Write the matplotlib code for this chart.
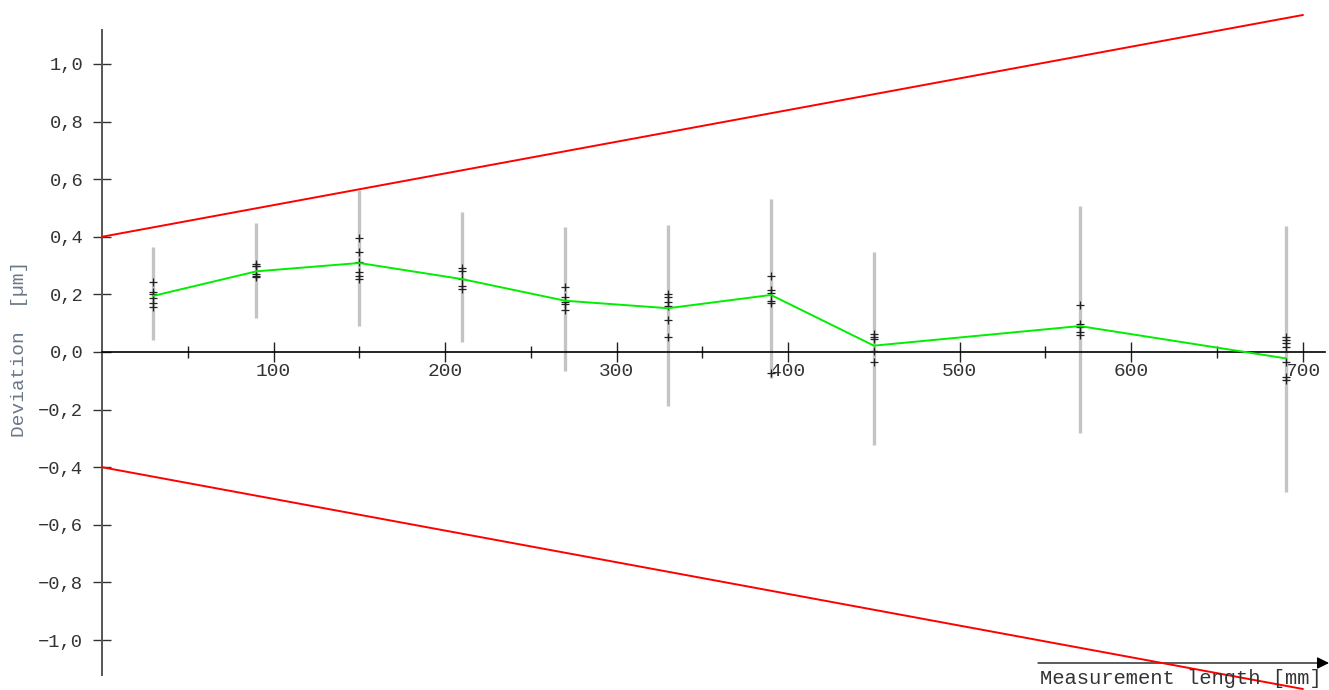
import numpy as np
import matplotlib.pyplot as plt
from matplotlib.ticker import FixedLocator, FuncFormatter

# =============================
# DATA
# =============================
positions = [30, 90, 150, 210, 270, 330, 390, 450, 570, 690]

mean_dev = [0.195, 0.280, 0.309, 0.253, 0.178, 0.152, 0.198, 0.022, 0.090, -0.022]

bar_top = [0.366, 0.447, 0.562, 0.485, 0.433, 0.441, 0.530, 0.347, 0.507, 0.437]
bar_bottom = [0.042, 0.119, 0.090, 0.034, -0.065, -0.188, -0.091, -0.323, -0.280, -0.485]

single_values = [
    [0.244, 0.209, 0.200, 0.189, 0.171, 0.157],
    [0.305, 0.300, 0.298, 0.271, 0.265, 0.262],
    [0.395, 0.346, 0.314, 0.277, 0.264, 0.255],
    [0.293, 0.282, 0.252, 0.229, 0.218],
    [0.225, 0.192, 0.172, 0.165, 0.146],
    [0.200, 0.190, 0.175, 0.161, 0.111, 0.052],
    [0.265, 0.215, 0.206, 0.177, 0.169, -0.074],
    [0.061, 0.053, 0.044, 0.005, -0.035],
    [0.164, 0.097, 0.088, 0.071, 0.059],
    [0.053, 0.042, 0.030, 0.019, -0.034, -0.086, -0.097],
]

# tolerance limits: +/- (0.4 + 1.1 * L / 1000) um
tol_length = [0, 700]
tol_upper = [0.40, 1.17]
tol_lower = [-0.40, -1.17]

x_major = [100, 200, 300, 400, 500, 600, 700]
x_minor = [50, 150, 250, 350, 450, 550, 650]
y_major = [-1.0, -0.8, -0.6, -0.4, -0.2, 0.0, 0.2, 0.4, 0.6, 0.8, 1.0]

# =============================
# FIGURE
# =============================
plt.rcParams['font.family'] = ['Liberation Mono', 'DejaVu Sans Mono']

fig = plt.figure(figsize=(13.29, 6.90), dpi=100)
ax = fig.add_axes([102 / 1329, 15 / 690, 1223 / 1329, 645 / 690])
ax.set_xlim(0, 713)
ax.set_ylim(-1.1215, 1.118)

# spines through the origin
for side in ["top", "right"]:
    ax.spines[side].set_visible(False)
ax.spines["bottom"].set_position(("data", 0))
ax.spines["left"].set_position(("data", 0))
ax.spines["bottom"].set_color("black")
ax.spines["bottom"].set_linewidth(1.2)
ax.spines["left"].set_color("#555555")
ax.spines["left"].set_linewidth(1.4)

# grey bars
ax.vlines(positions, bar_bottom, bar_top, color="#c4c4c4", linewidth=2.4, zorder=2)

# single measurements
for x, vals in zip(positions, single_values):
    ax.plot([x] * len(vals), vals, linestyle="none", marker="+",
            markersize=6, markeredgewidth=0.9, color="#222222", zorder=3)

# mean line
ax.plot(positions, mean_dev, color="#00ee00", linewidth=1.4, zorder=4)

# tolerance lines (run past the axes)
ax.plot(tol_length, tol_upper, color="#ff0000", linewidth=1.4, clip_on=False, zorder=5)
ax.plot(tol_length, tol_lower, color="#ff0000", linewidth=1.4, clip_on=False, zorder=5)

# ticks
ax.xaxis.set_major_locator(FixedLocator(x_major))
ax.xaxis.set_minor_locator(FixedLocator(x_minor))
ax.yaxis.set_major_locator(FixedLocator(y_major))
ax.yaxis.set_major_formatter(
    FuncFormatter(lambda v, p: f"{v:.1f}".replace(".", ",").replace("-", "\u2212")))

ax.tick_params(axis="x", which="major", direction="inout", length=14, width=1,
               color="#222222", labelsize=14, labelcolor="#333333", pad=1)
ax.tick_params(axis="x", which="minor", direction="inout", length=8, width=1,
               color="#222222")
ax.tick_params(axis="y", which="major", direction="inout", length=13, width=1,
               color="#333333", labelsize=13.5, labelcolor="#333333", pad=7)

# axis labels
fig.text(20 / 1329, 1 - 349 / 690, "Deviation  [\u00b5m]", rotation=90,
         ha="center", va="center", fontsize=14, color="#6b7888")
fig.text(1040 / 1329, 1 - 678 / 690, "Measurement length [mm]",
         ha="left", va="center", fontsize=14.8, color="#333333")
ax.annotate("", xy=(1329 / 1329, 1 - 663 / 690), xytext=(1038 / 1329, 1 - 663 / 690),
            xycoords="figure fraction", textcoords="figure fraction",
            arrowprops=dict(arrowstyle="-|>", color="black", lw=0.9,
                            mutation_scale=18, shrinkA=0, shrinkB=0))

fig.savefig("out.png", dpi=100, facecolor="white")
